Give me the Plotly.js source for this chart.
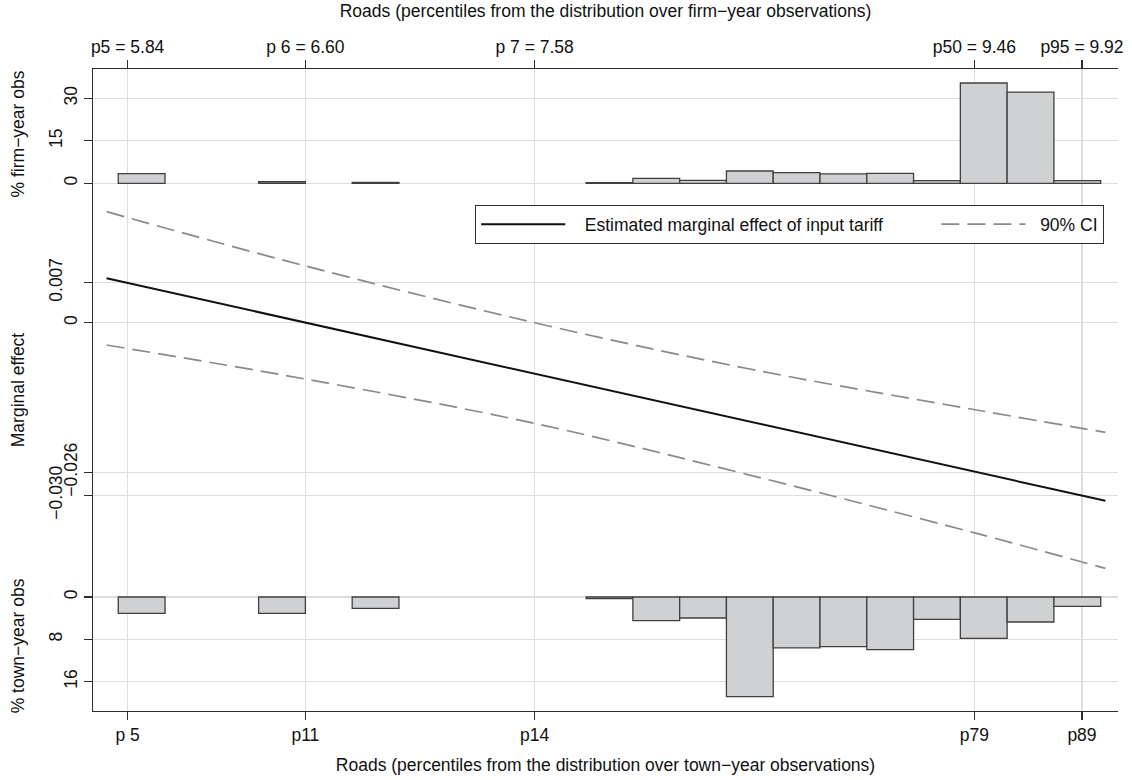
<!DOCTYPE html>
<html>
<head>
<meta charset="utf-8">
<script src="https://cdn.plot.ly/plotly-3.0.1.min.js"></script>
<style>
html,body{margin:0;padding:0;background:#ffffff;}
#chart{width:1132px;height:780px;}
</style>
</head>
<body>
<div id="chart"></div>
<script>
// ---- data ----
const binCenters = [5.9, 6.5, 6.9, 7.9, 8.1, 8.3, 8.5, 8.7, 8.9, 9.1, 9.3, 9.5, 9.7, 9.9];
const binWidth = 0.2;
const firmYearPct = [3.4, 0.55, 0.35, 0.2, 1.76, 1.06, 4.35, 3.76, 3.3, 3.5, 0.94, 35.4, 32.2, 0.94];
const townYearPct = [3.1, 3.1, 2.14, 0.3, 4.48, 3.97, 18.85, 9.64, 9.39, 9.95, 4.22, 7.81, 4.73, 1.76];

const roadsGrid = [5.75, 6.60, 7.58, 8.50, 9.47, 10.02];
const marginalEffect = [0.00772, 0.0, -0.00886, -0.01719, -0.02598, -0.03096];
const ciUpper = [0.01930, 0.00986, 0.0, -0.00805, -0.01518, -0.01906];
const ciLower = [-0.00388, -0.00979, -0.01750, -0.02649, -0.03663, -0.04271];

const tickRoads = [5.84, 6.60, 7.58, 9.46, 9.92];
const tickTopLabels = ['p5 = 5.84', 'p 6 = 6.60', 'p 7 = 7.58', 'p50 = 9.46', 'p95 = 9.92'];
const tickBottomLabels = ['p 5', 'p11', 'p14', 'p79', 'p89'];

const firmTicksNear = [0, 30], firmTicksFar = [15];
const effTicksNear = [0, -0.026], effTicksFar = [0.007, -0.030];
const townTicksNear = [0, 16], townTicksFar = [8];

const legendMain = 'Estimated marginal effect of input tariff';
const legendCI = '90% CI';

function effLabel(v){ if (v === 0) return '0'; return (v < 0 ? '\u2212' : '') + Math.abs(v).toFixed(3); }
const NB = n => '\u00a0'.repeat(n);

// ---- styling ----
const FONT = '"Liberation Sans", Arial, Helvetica, sans-serif';
const FS = 17.5;
const TXT = '#111111';
const AX = '#2e2e2e';
const GRID = '#dedede';
const BARFILL = '#d0d1d3';
const BARLINE = '#404040';

function yax(extra){
  return Object.assign({
    tickmode: 'array', ticks: 'outside', ticklen: 8, tickwidth: 1.2, tickcolor: AX,
    tickangle: -90, tickfont: {family: FONT, size: FS, color: TXT},
    showgrid: true, gridcolor: GRID, gridwidth: 1.2, zeroline: false,
    showline: false, fixedrange: true, side: 'left', anchor: 'x'
  }, extra);
}

const traces = [
  {type: 'bar', x: binCenters, y: firmYearPct, width: binWidth, xaxis: 'x', yaxis: 'y',
   marker: {color: BARFILL, line: {color: BARLINE, width: 1.3}}, showlegend: false, hoverinfo: 'x+y'},
  {type: 'bar', x: binCenters, y: townYearPct, width: binWidth, xaxis: 'x', yaxis: 'y3',
   marker: {color: BARFILL, line: {color: BARLINE, width: 1.3}}, showlegend: false, hoverinfo: 'x+y'},
  {type: 'scatter', mode: 'lines', x: roadsGrid, y: marginalEffect, xaxis: 'x', yaxis: 'y2',
   name: NB(3) + legendMain + NB(10), line: {color: '#111111', width: 2}},
  {type: 'scatter', mode: 'lines', x: roadsGrid, y: ciUpper, xaxis: 'x', yaxis: 'y2',
   name: NB(2) + legendCI, line: {color: '#8a8a8a', width: 1.7, dash: '18px,8px', shape: 'spline'}},
  {type: 'scatter', mode: 'lines', x: roadsGrid, y: ciLower, xaxis: 'x', yaxis: 'y2',
   name: legendCI + ' lower', showlegend: false, line: {color: '#8a8a8a', width: 1.7, dash: '18px,8px', shape: 'spline'}},
  // carriers so that the top axis and the staggered label axes are drawn (draw nothing)
  {type: 'scatter', mode: 'none', x: binCenters, y: firmYearPct, xaxis: 'x2', yaxis: 'y', showlegend: false, hoverinfo: 'skip'},
  {type: 'scatter', mode: 'none', x: binCenters, y: firmYearPct, xaxis: 'x', yaxis: 'y4', showlegend: false, hoverinfo: 'skip'},
  {type: 'scatter', mode: 'none', x: roadsGrid, y: marginalEffect, xaxis: 'x', yaxis: 'y5', showlegend: false, hoverinfo: 'skip'},
  {type: 'scatter', mode: 'none', x: binCenters, y: townYearPct, xaxis: 'x', yaxis: 'y6', showlegend: false, hoverinfo: 'skip'}
];

const xRange = [5.692, 10.074];

const layout = {
  width: 1132, height: 780,
  margin: {l: 93, r: 14, t: 69, b: 69, pad: 0},
  paper_bgcolor: '#ffffff', plot_bgcolor: '#ffffff',
  font: {family: FONT, size: FS, color: TXT},
  barmode: 'overlay', bargap: 0,
  showlegend: true,
  legend: {orientation: 'h', x: 0.3727, y: 0.788, xanchor: 'left', yanchor: 'top',
           bgcolor: '#ffffff', bordercolor: AX, borderwidth: 1.2,
           font: {family: FONT, size: FS, color: TXT}, itemwidth: 84},
  xaxis: {
    range: xRange, anchor: 'y3', tickmode: 'array', tickvals: tickRoads, ticktext: tickBottomLabels,
    ticks: 'outside', ticklen: 8, tickwidth: 1.2, tickcolor: AX,
    tickfont: {family: FONT, size: FS, color: TXT},
    showline: true, linecolor: AX, linewidth: 1.2,
    showgrid: true, gridcolor: GRID, gridwidth: 1.2, zeroline: false, fixedrange: true,
    title: {text: 'Roads (percentiles from the distribution over town\u2212year observations)',
            font: {family: FONT, size: FS, color: TXT}, standoff: 14}
  },
  xaxis2: {
    range: xRange, overlaying: 'x', side: 'top', anchor: 'y', tickmode: 'array',
    tickvals: tickRoads, ticktext: tickTopLabels,
    ticks: 'outside', ticklen: 8, tickwidth: 1.2, tickcolor: AX,
    tickfont: {family: FONT, size: FS, color: TXT},
    showline: true, linecolor: AX, linewidth: 1.2,
    showgrid: false, zeroline: false, fixedrange: true,
    title: {text: 'Roads (percentiles from the distribution over firm\u2212year observations)',
            font: {family: FONT, size: FS, color: TXT}, standoff: 14}
  },
  yaxis: yax({domain: [0.7975, 1], range: [-5.54, 40.34], tickvals: firmTicksNear,
    ticktext: firmTicksNear.map(String), showline: true, linecolor: AX, linewidth: 1.2,
    title: {text: '% firm\u2212year obs', font: {family: FONT, size: FS, color: TXT}, standoff: 31}}),
  yaxis4: yax({overlaying: 'y', range: [-5.54, 40.34], tickvals: firmTicksFar,
    ticktext: firmTicksFar.map(String), ticklabelstandoff: 15}),
  yaxis2: yax({domain: [0.2025, 0.7975], range: [-0.044898, 0.021502], tickvals: effTicksNear,
    ticktext: effTicksNear.map(effLabel), showline: true, linecolor: AX, linewidth: 1.2,
    title: {text: 'Marginal effect', font: {family: FONT, size: FS, color: TXT}, standoff: 31}}),
  yaxis5: yax({overlaying: 'y2', range: [-0.044898, 0.021502], tickvals: effTicksFar,
    ticktext: effTicksFar.map(effLabel), ticklabelstandoff: 15}),
  yaxis3: yax({domain: [0, 0.2025], range: [21.56, -3.026], tickvals: townTicksNear,
    ticktext: townTicksNear.map(String), showline: true, linecolor: AX, linewidth: 1.2,
    title: {text: '% town\u2212year obs', font: {family: FONT, size: FS, color: TXT}, standoff: 31}}),
  yaxis6: yax({overlaying: 'y3', range: [21.56, -3.026], tickvals: townTicksFar,
    ticktext: townTicksFar.map(String), ticklabelstandoff: 15})
};

Plotly.newPlot('chart', traces, layout, {displayModeBar: false, staticPlot: true});
</script>
</body>
</html>
